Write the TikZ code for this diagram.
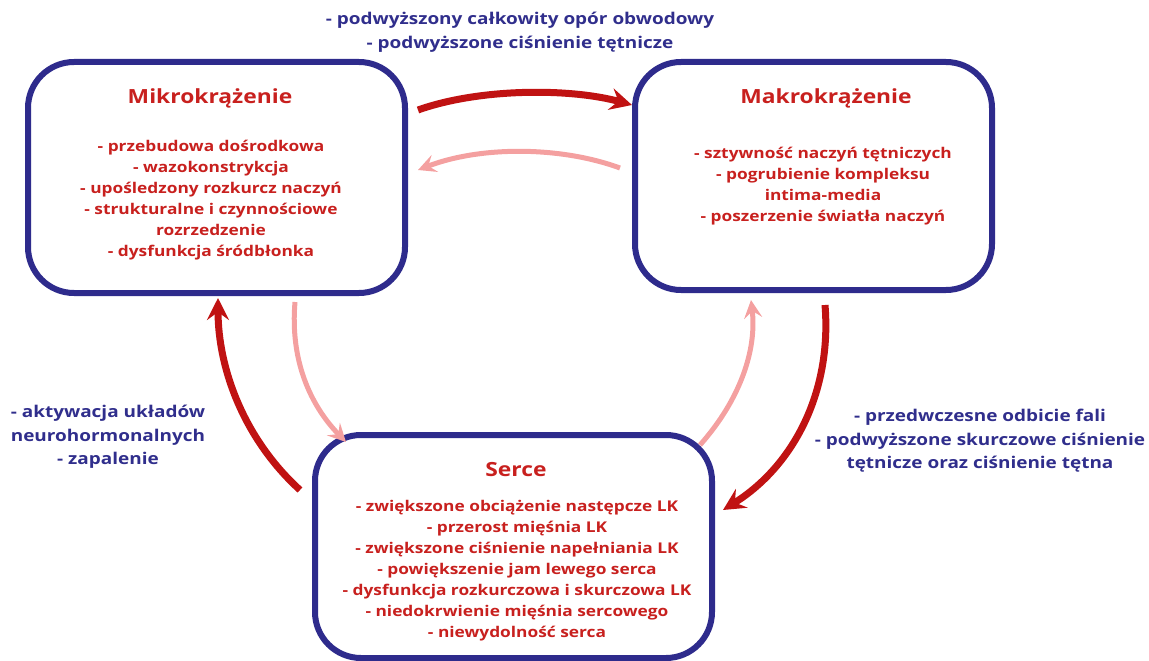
\documentclass[tikz,border=0pt]{standalone}
\usepackage{fontspec}
\setmainfont{Open Sans}[FakeStretch=1.17]
\usetikzlibrary{arrows.meta}
\definecolor{boxblue}{RGB}{46,43,140}
\definecolor{txtblue}{RGB}{48,46,140}
\definecolor{txtred}{RGB}{200,32,30}
\definecolor{darkarrow}{RGB}{192,18,18}
\definecolor{pinkarrow}{RGB}{244,160,160}
\tikzset{
  bigbox/.style={draw=boxblue, line width=6pt, rounded corners=46pt, fill=white},
  titletxt/.style={text=txtred, font=\fontsize{19.5}{22}\selectfont\bfseries, inner sep=0pt},
  itemtxt/.style={text=txtred, font=\fontsize{14.8}{21}\selectfont\bfseries, align=center, inner sep=0pt},
  lbltxt/.style={text=txtblue, font=\fontsize{16.2}{23.5}\selectfont\bfseries, align=center, inner sep=0pt},
  strongarrow/.style={draw=darkarrow, line width=7pt, -{Stealth[length=22pt,width=22pt,inset=8pt]}},
  weakarrow/.style={draw=pinkarrow, line width=5pt, -{Stealth[length=18pt,width=18pt,inset=7pt]}}
}
\begin{document}
\begin{tikzpicture}[x=1pt,y=-1pt]
\useasboundingbox (0,0) rectangle (1149,661);
% boxes
\node[bigbox, minimum width=377pt, minimum height=231pt] (mikro) at (216.5,177.5) {};
\node[bigbox, minimum width=357pt, minimum height=228pt] (makro) at (813.5,176) {};
\node[bigbox, minimum width=397pt, minimum height=223pt] (serce) at (513.5,546.5) {};
% titles
\node[titletxt] (mikroT) at (210,98) {Mikrokrążenie};
\node[titletxt] (makroT) at (826,98) {Makrokrążenie};
\node[titletxt] (serceT) at (516,470) {Serce};
% items
\node[itemtxt] (mikroI) at (211,200) {- przebudowa dośrodkowa\\- wazokonstrykcja\\- upośledzony rozkurcz naczyń\\- strukturalne i czynnościowe\\rozrzedzenie\\- dysfunkcja śródbłonka};
\node[itemtxt] (makroI) at (823,186) {- sztywność naczyń tętniczych\\- pogrubienie kompleksu\\intima-media\\- poszerzenie światła naczyń};
\node[itemtxt] (serceI) at (517,571) {- zwiększone obciążenie następcze LK\\- przerost mięśnia LK\\- zwiększone ciśnienie napełniania LK\\- powiększenie jam lewego serca\\- dysfunkcja rozkurczowa i skurczowa LK\\- niedokrwienie mięśnia sercowego\\- niewydolność serca};
% labels
\node[lbltxt] (topL) at (520,32) {- podwyższony całkowity opór obwodowy\\- podwyższone ciśnienie tętnicze};
\node[lbltxt] (leftL) at (108,437) {- aktywacja układów\\neurohormonalnych\\- zapalenie};
\node[lbltxt] (rightL) at (980,441) {- przedwczesne odbicie fali\\- podwyższone skurczowe ciśnienie\\tętnicze oraz ciśnienie tętna};
% arrow ends
\coordinate (a1s) at (418,110); \coordinate (a1e) at (632,105);
\coordinate (a2s) at (620,168); \coordinate (a2e) at (418,170);
\coordinate (a3s) at (300,490); \coordinate (a3e) at (218,298);
\coordinate (a4s) at (295,302); \coordinate (a4e) at (346,442);
\coordinate (a5s) at (700,445); \coordinate (a5e) at (751,300);
\coordinate (a6s) at (825,305); \coordinate (a6e) at (723,510);
% arrows
\draw[strongarrow] (a1s) .. controls (480,88) and (570,88) .. (a1e);
\draw[weakarrow] (a2s) .. controls (560,146) and (480,146) .. (a2e);
\draw[strongarrow] (a3s) .. controls (245,440) and (218,370) .. (a3e);
\draw[weakarrow] (a4s) .. controls (290,360) and (310,405) .. (a4e);
\draw[weakarrow] (a5s) .. controls (740,400) and (757,350) .. (a5e);
\draw[strongarrow] (a6s) .. controls (832,390) and (795,465) .. (a6e);
\end{tikzpicture}
\end{document}
